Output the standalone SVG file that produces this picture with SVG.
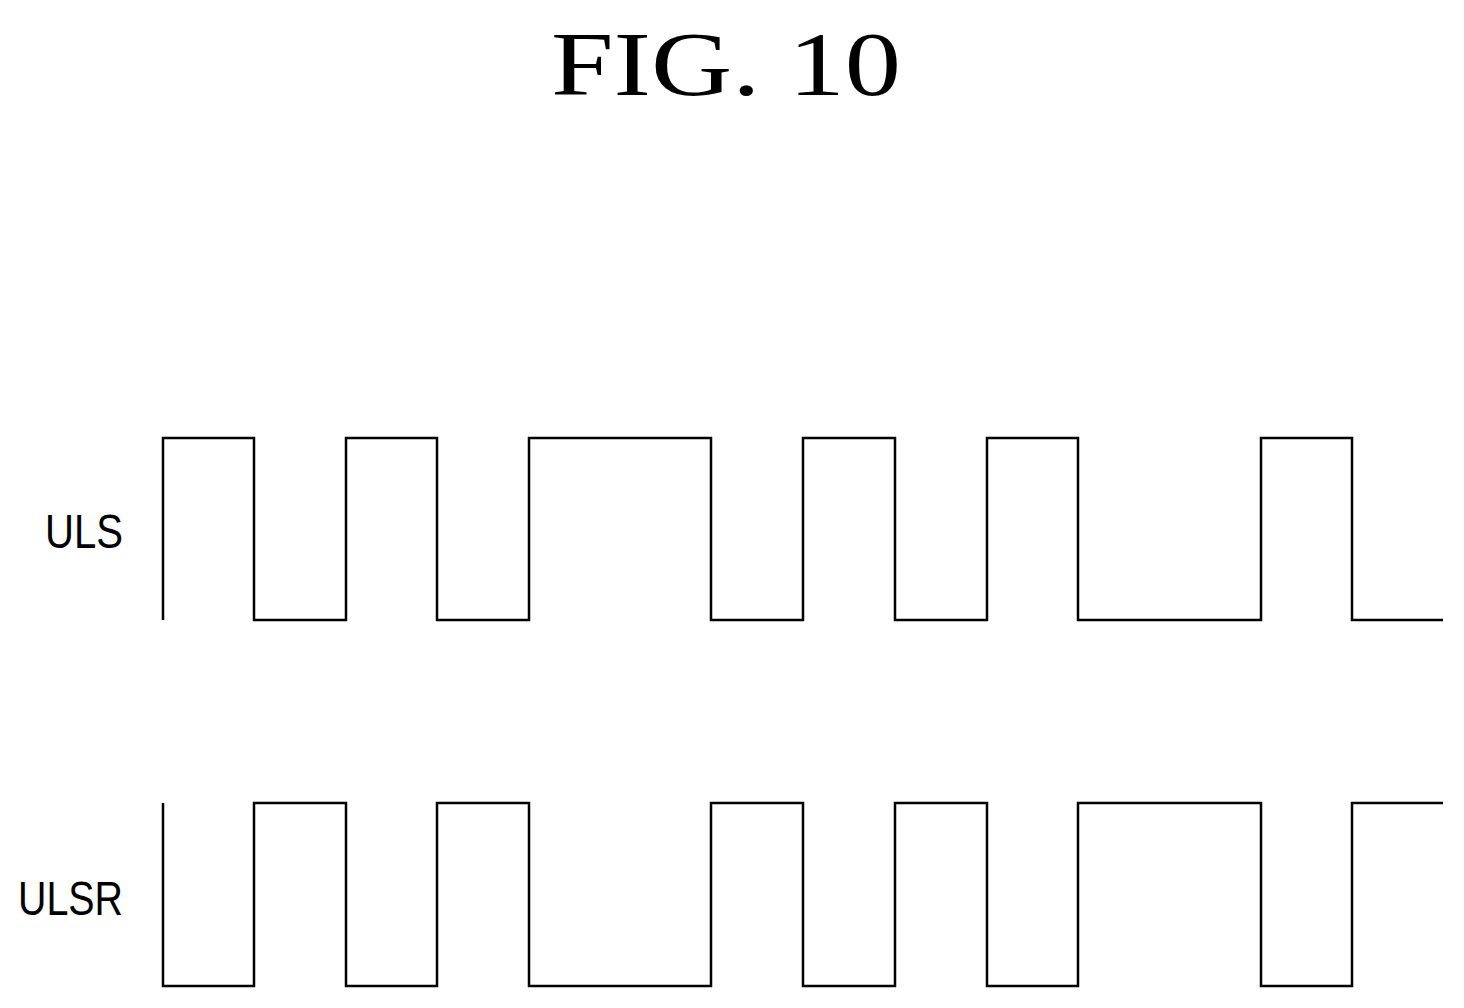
<svg xmlns="http://www.w3.org/2000/svg" width="1464" height="1008" viewBox="0 0 1464 1008">
<style>
.w{fill:none;stroke:#000;stroke-width:2.5}
.l{font-family:"Liberation Sans",Arial,sans-serif;font-size:48px;fill:#000}
</style>
<rect width="1464" height="1008" fill="#fff"/>
<text x="551" y="95" font-family="Liberation Serif,serif" font-size="92" textLength="350" lengthAdjust="spacingAndGlyphs">FIG. 10</text>
<g id="label-uls"><text class="l" x="45" y="548" textLength="78" lengthAdjust="spacingAndGlyphs">ULS</text></g>
<g id="label-ulsr"><text class="l" x="18" y="915" textLength="105" lengthAdjust="spacingAndGlyphs">ULSR</text></g>
<g id="connectors">
<path id="uls" class="w" d="M163,620 V438 H254 V620 H346 V438 H437 V620 H529 V438 H711 V620 H803 V438 H895 V620 H987 V438 H1078 V620 H1261 V438 H1352 V620 H1443"/>
<path id="ulsr" class="w" d="M163,803 V986 H254 V803 H346 V986 H437 V803 H529 V986 H711 V803 H803 V986 H895 V803 H987 V986 H1078 V803 H1261 V986 H1352 V803 H1443"/>
</g>
</svg>
